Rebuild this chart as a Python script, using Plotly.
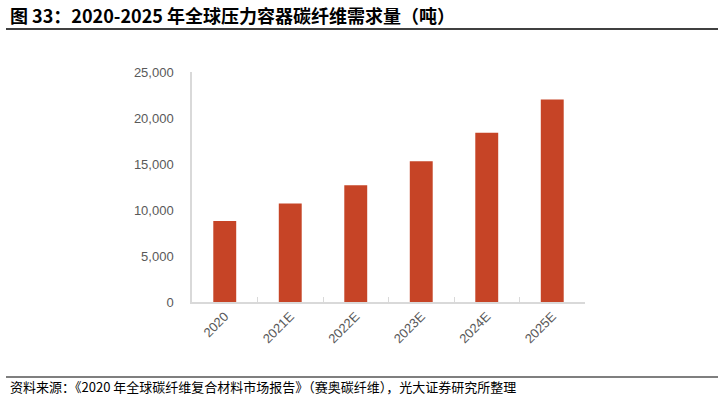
import plotly.graph_objects as go

categories = ["2020", "2021E", "2022E", "2023E", "2024E", "2025E"]
demand = [8800, 10700, 12700, 15300, 18400, 22000]
y_ticks = [0, 5000, 10000, 15000, 20000, 25000]
y_tick_labels = ["0", "5,000", "10,000", "15,000", "20,000", "25,000"]

W, H = 721, 398
L, R, T, B = 192, 721 - 585, 72, 398 - 302

fig = go.Figure()
fig.add_trace(go.Bar(x=categories, y=demand, marker_color="#C64426",
                     marker_line_width=0, width=0.35))

fig.update_layout(
    width=W, height=H,
    margin=dict(l=L, r=R, t=T, b=B),
    paper_bgcolor="white", plot_bgcolor="white",
    showlegend=False,
    font=dict(family="Arial, Liberation Sans, Noto Sans CJK SC", color="#595959", size=13),
    xaxis=dict(type="category", showline=True, linecolor="#D9D9D9", linewidth=1.5,
               ticks="inside", tickson="boundaries", ticklen=5, tickcolor="#D9D9D9",
               tickangle=-45, showgrid=False,
               tickfont=dict(size=13, color="#595959", family="Liberation Sans, Arial")),
    yaxis=dict(range=[0, 25000], tickvals=y_ticks, ticktext=y_tick_labels,
               showline=True, linecolor="#D9D9D9", linewidth=1.5, showgrid=False,
               zeroline=False, ticks="", ticklabelstandoff=14,
               tickfont=dict(size=13, color="#595959", family="Liberation Sans, Arial")),
)

PW, PH = W - L - R, H - T - B

def px_x(p):
    return (p - L) / PW

def px_y(p):
    return (H - B - p) / PH

fig.add_annotation(text="<b>图 33：2020-2025 年全球压力容器碳纤维需求量（吨）</b>",
                   xref="paper", yref="paper", x=px_x(8), y=px_y(15),
                   xanchor="left", yanchor="middle", showarrow=False,
                   font=dict(family="Noto Sans CJK SC", size=18, color="#000000"))
fig.add_annotation(text="资料来源：《2020 年全球碳纤维复合材料市场报告》（赛奥碳纤维），光大证券研究所整理",
                   xref="paper", yref="paper", x=px_x(8), y=px_y(386),
                   xanchor="left", yanchor="middle", showarrow=False,
                   font=dict(family="Noto Sans CJK SC", size=13, color="#000000"))

fig.add_shape(type="line", xref="paper", yref="paper", x0=px_x(6), x1=px_x(718),
              y0=px_y(29), y1=px_y(29), line=dict(color="#000000", width=1.5))
fig.add_shape(type="line", xref="paper", yref="paper", x0=px_x(6), x1=px_x(718),
              y0=px_y(377), y1=px_y(377), line=dict(color="#000000", width=1.2))

fig.write_html("out.html", config={"displayModeBar": False},
               post_script="document.body.style.margin='0';document.body.style.padding='0';")
